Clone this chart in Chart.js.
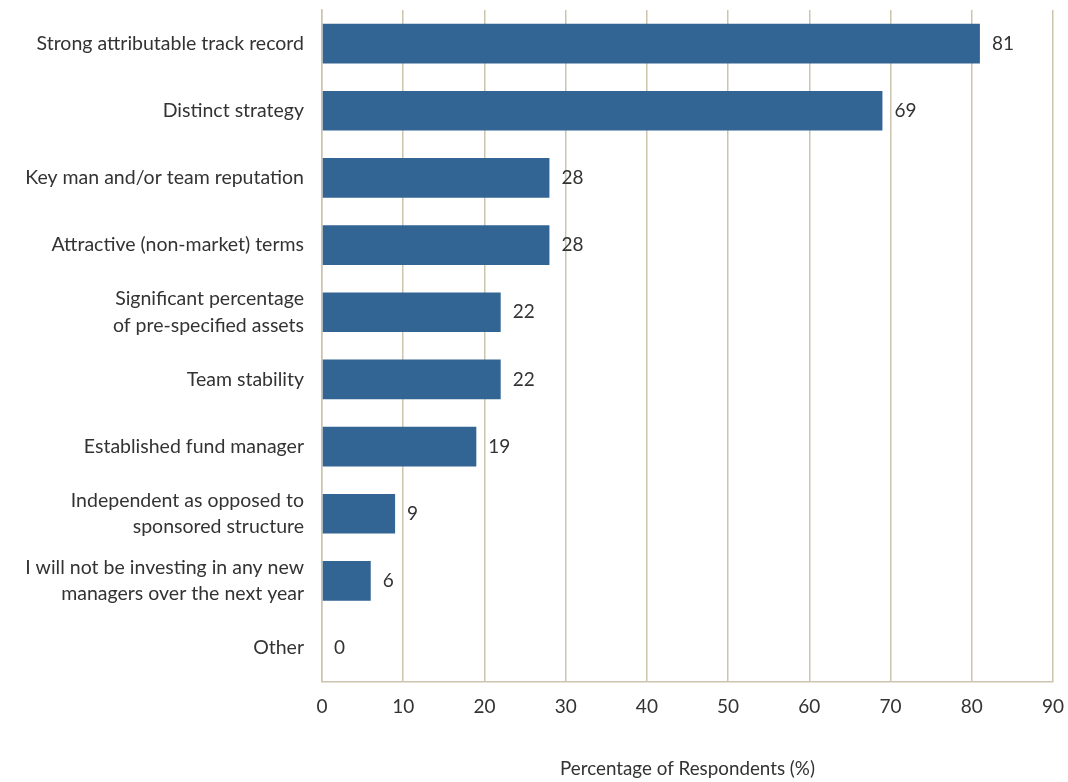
<!DOCTYPE html>
<html>
<head>
<meta charset="utf-8">
<script src="https://cdn.jsdelivr.net/npm/chart.js@4"></script>
<style>
  html, body { margin: 0; padding: 0; background: #fff; }
  #wrap { width: 1068px; height: 782px; }
</style>
</head>
<body>
<div id="wrap"><canvas id="chart"></canvas></div>
<script>
// Reasons for selecting a new manager, share of respondents (%).
var categories = [
  "Strong attributable track record",
  "Distinct strategy",
  "Key man and/or team reputation",
  "Attractive (non-market) terms",
  ["Significant percentage", "of pre-specified assets"],
  "Team stability",
  "Established fund manager",
  ["Independent as opposed to", "sponsored structure"],
  ["I will not be investing in any new", "managers over the next year"],
  "Other"
];
var respondents = [81, 69, 28, 28, 22, 22, 19, 9, 6, 0];
var xTicks = [0, 10, 20, 30, 40, 50, 60, 70, 80, 90];

var FONT = "Lato, 'Noto Sans', sans-serif";
var TEXT = "#333333";
var GRID = "#cdc4ae";

// value printed just past the end of each bar
var valueLabels = {
  id: "valueLabels",
  afterDatasetsDraw: function (chart) {
    var ctx = chart.ctx;
    var meta = chart.getDatasetMeta(0);
    ctx.save();
    ctx.font = "19px " + FONT;
    ctx.fillStyle = TEXT;
    ctx.textAlign = "left";
    ctx.textBaseline = "middle";
    meta.data.forEach(function (bar, i) {
      ctx.fillText(String(respondents[i]), bar.x + 12, bar.y);
    });
    ctx.restore();
  }
};

new Chart(document.getElementById("chart"), {
  type: "bar",
  data: {
    labels: categories,
    datasets: [{
      data: respondents,
      backgroundColor: "#336594",
      barPercentage: 0.59,
      categoryPercentage: 1.0
    }]
  },
  plugins: [valueLabels],
  options: {
    indexAxis: "y",
    responsive: true,
    maintainAspectRatio: false,
    animation: false,
    layout: { padding: { top: 10, right: 15, left: 0, bottom: 2 } },
    plugins: { legend: { display: false }, tooltip: { enabled: false } },
    scales: {
      x: {
        min: 0, max: 90,
        afterBuildTicks: function (axis) { axis.ticks = xTicks.map(function (v) { return { value: v }; }); },
        afterFit: function (axis) { axis.paddingLeft = 0; axis.paddingRight = 0; },
        grid: { color: GRID, lineWidth: 1.5, drawTicks: false },
        border: { color: GRID, width: 1.5 },
        ticks: { color: TEXT, font: { family: FONT, size: 19 }, padding: 14, maxRotation: 0 },
        title: {
          display: true,
          text: "Percentage of Respondents (%)",
          color: TEXT,
          font: { family: FONT, size: 18.8 },
          padding: { top: 25, bottom: 0 }
        }
      },
      y: {
        grid: { display: false, drawTicks: false },
        border: { color: GRID, width: 1.5 },
        ticks: { color: TEXT, font: { family: FONT, size: 19.5, lineHeight: 1.35 }, padding: 18 },
        afterFit: function (axis) { axis.width = 322; axis.paddingTop = 0; axis.paddingBottom = 0; }
      }
    }
  }
});
</script>
</body>
</html>
